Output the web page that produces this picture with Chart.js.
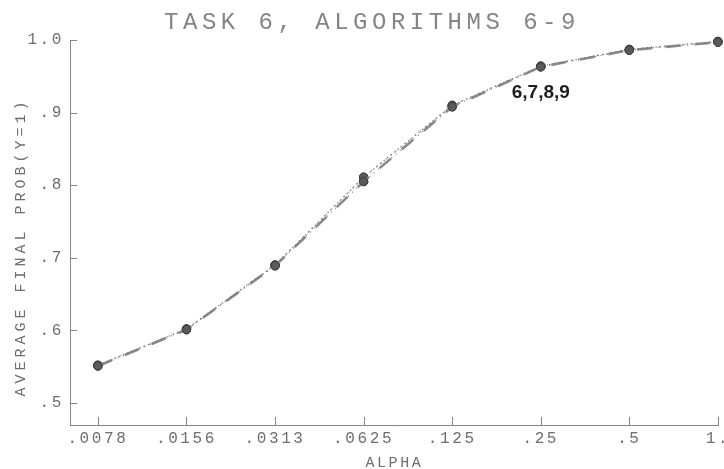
<!DOCTYPE html>
<html>
<head>
<meta charset="utf-8">
<script src="https://cdn.jsdelivr.net/npm/chart.js@4/dist/chart.umd.min.js"></script>
<style>
  html, body { margin: 0; padding: 0; background: #ffffff; }
  #wrap { width: 724px; height: 469px; }
</style>
</head>
<body>
<div id="wrap"><canvas id="c" width="724" height="469"></canvas></div>
<script>
// Learning-rate settings (x categories) and axis tick labels
const alphaLabels = ['.0078', '.0156', '.0313', '.0625', '.125', '.25', '.5', '1.'];
const yTickValues = [0.5, 0.6, 0.7, 0.8, 0.9, 1.0];
const yTickLabels = ['.5', '.6', '.7', '.8', '.9', '1.0'];

// Average final P(Y=1) for algorithms 6-9 (curves nearly coincide)
const alg6 = [0.551, 0.601, 0.689, 0.805, 0.908, 0.963, 0.986, 0.997];
const alg7 = [0.552, 0.602, 0.690, 0.811, 0.910, 0.964, 0.987, 0.998];
const alg8 = [0.551, 0.601, 0.689, 0.805, 0.908, 0.963, 0.986, 0.997];
const alg9 = [0.552, 0.602, 0.690, 0.811, 0.910, 0.964, 0.987, 0.998];

const curveLabel = '6,7,8,9';
const chartTitle = 'TASK 6, ALGORITHMS 6-9';
const xTitle = 'ALPHA';
const yTitle = 'AVERAGE FINAL PROB(Y=1)';

const MONO = '"Liberation Mono", "DejaVu Sans Mono", monospace';
const INK = '#6e6e6e';

const toPoints = arr => arr.map((v, i) => ({ x: i, y: v }));

function series(label, data, style) {
  return Object.assign({
    label,
    data: toPoints(data),
    fill: false,
    tension: 0,
    clip: false,
    pointRadius: 4.2,
    pointHoverRadius: 4.2,
    pointBackgroundColor: '#5a5a5a',
    pointBorderColor: '#3c3c3c',
    pointBorderWidth: 1
  }, style);
}

// Plotter-style spaced lettering for tick labels
const spacing = {
  id: 'spacing',
  beforeUpdate(chart) { chart.ctx.letterSpacing = '2.6px'; },
  beforeDraw(chart) { chart.ctx.letterSpacing = '2.6px'; }
};

// Inward tick marks, titles and the curve label
const decorations = {
  id: 'decorations',
  afterDraw(chart) {
    const { ctx, chartArea } = chart;
    const xs = chart.scales.x, ys = chart.scales.y;
    ctx.save();
    ctx.strokeStyle = '#858585';
    ctx.lineWidth = 1;
    ctx.beginPath();
    yTickValues.forEach(v => {
      const y = Math.round(ys.getPixelForValue(v)) + 0.5;
      ctx.moveTo(chartArea.left, y);
      ctx.lineTo(chartArea.left + 7, y);
    });
    alphaLabels.forEach((_, i) => {
      const x = Math.round(xs.getPixelForValue(i)) + 0.5;
      ctx.moveTo(x, chartArea.bottom);
      ctx.lineTo(x, chartArea.bottom - 8);
    });
    ctx.stroke();

    ctx.fillStyle = '#858585';
    ctx.textAlign = 'center';
    ctx.textBaseline = 'middle';
    ctx.letterSpacing = '4.5px';
    ctx.font = '24px ' + MONO;
    ctx.fillText(chartTitle, 372, 23);

    ctx.fillStyle = INK;
    ctx.font = '15px ' + MONO;
    ctx.letterSpacing = '2.6px';
    ctx.fillText(xTitle, (chartArea.left + chartArea.right) / 2, 463);

    ctx.save();
    ctx.translate(21, 247);
    ctx.rotate(-Math.PI / 2);
    ctx.letterSpacing = '4px';
    ctx.fillText(yTitle, 0, 0);
    ctx.restore();

    ctx.letterSpacing = '0px';
    ctx.fillStyle = '#1e1e1e';
    ctx.font = 'bold 19px "Liberation Sans", Arial, sans-serif';
    ctx.fillText(curveLabel, xs.getPixelForValue(5), ys.getPixelForValue(0.927));
    ctx.restore();
    ctx.letterSpacing = '2.6px';
  }
};

new Chart(document.getElementById('c'), {
  type: 'line',
  data: {
    datasets: [
      series('6', alg6, { borderColor: 'rgba(125,125,125,0.9)', borderWidth: 2.6, borderDash: [15, 14] }),
      series('7', alg7, { borderColor: '#777777', borderWidth: 1.3, borderDash: [1.3, 3.2] }),
      series('8', alg8, { borderColor: '#8a8a8a', borderWidth: 1.1, borderDash: [1.3, 4.5], borderDashOffset: 2 }),
      series('9', alg9, { borderColor: '#8a8a8a', borderWidth: 1.1, borderDash: [1.3, 5], borderDashOffset: 1 })
    ]
  },
  options: {
    responsive: false,
    animation: false,
    devicePixelRatio: 1,
    layout: { padding: { top: 40, right: 2, left: 0, bottom: 0 } },
    plugins: { legend: { display: false }, tooltip: { enabled: false }, title: { display: false } },
    scales: {
      x: {
        type: 'linear',
        min: -0.315,
        max: 7.01,
        grid: { display: false, drawTicks: false },
        border: { display: true, color: '#858585', width: 1 },
        afterBuildTicks: s => { s.ticks = alphaLabels.map((_, i) => ({ value: i })); },
        afterFit: s => { s.paddingLeft = 0; s.paddingRight = 0; s.height = 44; },
        ticks: {
          autoSkip: false,
          maxRotation: 0,
          padding: 4,
          color: INK,
          font: { family: MONO, size: 16 },
          callback: v => alphaLabels[v]
        }
      },
      y: {
        min: 0.4697,
        max: 1.0,
        grid: { display: false, drawTicks: false },
        border: { display: true, color: '#858585', width: 1 },
        afterBuildTicks: s => { s.ticks = yTickValues.map(v => ({ value: v })); },
        afterFit: s => { s.width = 70; },
        ticks: {
          padding: 6,
          color: INK,
          font: { family: MONO, size: 16 },
          callback: v => yTickLabels[yTickValues.findIndex(t => Math.abs(t - v) < 1e-6)]
        }
      }
    }
  },
  plugins: [spacing, decorations]
});
</script>
</body>
</html>
